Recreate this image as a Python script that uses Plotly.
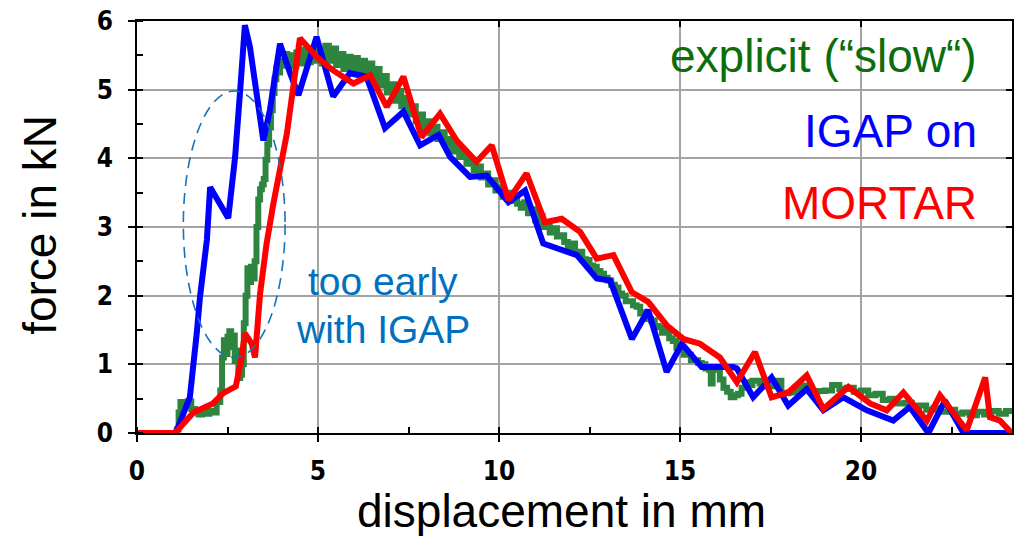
import plotly.graph_objects as go

# ---- force-displacement curves (displacement in mm, force in kN) ----
explicit_x = [0, 1.05, 1.1, 1.15, 1.2, 1.3, 1.4, 1.5, 1.6, 1.7, 1.8, 1.9, 2.0, 2.1, 2.2, 2.3,
              2.35, 2.4, 2.45, 2.5, 2.55, 2.6, 2.65, 2.7, 2.75, 2.8, 2.85, 2.9, 2.95, 3.0,
              3.05, 3.1, 3.15, 3.2, 3.25, 3.3, 3.35, 3.4, 3.45, 3.5, 3.55, 3.6, 3.65, 3.7,
              3.75, 3.8, 3.85, 3.9, 3.95, 4.0, 4.1, 4.15, 4.2, 4.3, 4.4, 4.5, 4.6, 4.7, 4.8,
              4.9, 5.0, 5.1, 5.2, 5.3, 5.4, 5.5, 5.6, 5.7, 5.8, 5.9, 6.0, 6.1, 6.2, 6.3, 6.4,
              6.5, 6.6, 6.7, 6.8, 6.9, 7.0, 7.1, 7.2, 7.3, 7.4, 7.5, 7.6, 7.7, 7.8, 7.9, 8.0,
              8.1, 8.2, 8.3, 8.4, 8.5, 8.6, 8.7, 8.8, 8.9, 9.0, 9.1, 9.2, 9.3, 9.4, 9.5, 9.6,
              9.7, 9.8, 9.9, 10.0, 10.1, 10.2, 10.3, 10.4, 10.5, 10.6, 10.7, 10.8, 10.9, 11.0,
              11.1, 11.2, 11.3, 11.4, 11.5, 11.6, 11.7, 11.8, 11.9, 12.0, 12.1, 12.2, 12.3,
              12.4, 12.5, 12.6, 12.7, 12.8, 12.9, 13.0, 13.1, 13.2, 13.3, 13.4, 13.5, 13.6,
              13.7, 13.8, 13.9, 14.0, 14.1, 14.2, 14.3, 14.4, 14.5, 14.6, 14.7, 14.8, 14.9,
              15.0, 15.1, 15.2, 15.3, 15.4, 15.5, 15.6, 15.7, 15.8, 15.85, 15.9, 16.0, 16.1,
              16.2, 16.3, 16.4, 16.5, 16.6, 16.7, 16.8, 16.9, 17.0, 17.2, 17.4, 17.6, 17.8,
              18.0, 18.2, 18.4, 18.6, 18.8, 19.0, 19.2, 19.4, 19.6, 19.8, 20.0, 20.2, 20.4,
              20.6, 20.8, 21.0, 21.2, 21.4, 21.6, 21.8, 22.0, 22.2, 22.4, 22.6, 22.8, 23.0,
              23.2, 23.4, 23.6, 23.8, 24.0, 24.2]
explicit_y = [0, 0, 0.05, 0.30, 0.45, 0.42, 0.46, 0.35, 0.30, 0.27, 0.30, 0.28, 0.32, 0.30, 0.45, 0.62,
              1.10, 1.35, 1.15, 1.40, 1.48, 1.25, 1.42, 1.05, 1.20, 0.80, 0.85, 1.00, 1.60, 2.00,
              2.40, 2.20, 2.42, 2.25, 2.50, 3.00, 3.40, 3.55, 3.62, 3.70, 3.98, 4.20, 4.45, 4.70,
              4.95, 5.15, 5.32, 5.25, 5.42, 5.35, 5.52, 5.36, 5.50, 5.34, 5.54, 5.38, 5.58, 5.40, 5.60,
              5.42, 5.58, 5.38, 5.64, 5.42, 5.60, 5.36, 5.52, 5.30, 5.48, 5.28, 5.46, 5.22, 5.42, 5.20, 5.38,
              5.12, 5.30, 5.06, 5.20, 4.96, 5.08, 4.84, 4.98, 4.76, 4.88, 4.64, 4.76, 4.54, 4.64, 4.44, 4.54,
              4.36, 4.46, 4.28, 4.38, 4.20, 4.28, 4.10, 4.18, 4.02, 4.08, 3.92, 3.98, 3.82, 3.88, 3.72, 3.78,
              3.62, 3.68, 3.53, 3.58, 3.44, 3.50, 3.38, 3.44, 3.34, 3.28, 3.36, 3.20, 3.26, 3.10,
              3.16, 3.00, 3.06, 2.92, 2.98, 2.86, 2.88, 2.78, 2.70, 2.76, 2.62, 2.64, 2.53,
              2.52, 2.44, 2.42, 2.36, 2.32, 2.26, 2.22, 2.16, 2.12, 2.03, 2.00, 1.92, 1.92,
              1.86, 1.84, 1.74, 1.76, 1.66, 1.64, 1.56, 1.54, 1.46, 1.50, 1.38, 1.34, 1.24,
              1.22, 1.14, 1.14, 1.06, 1.06, 1.02, 1.00, 0.94, 0.92, 0.72, 0.92, 0.94, 0.78,
              0.66, 0.60, 0.52, 0.55, 0.57, 0.66, 0.74, 0.70, 0.76, 0.72, 0.68, 0.76, 0.58,
              0.59, 0.64, 0.69, 0.60, 0.61, 0.62, 0.70, 0.64, 0.66, 0.60, 0.62, 0.55, 0.57,
              0.48, 0.50, 0.43, 0.44, 0.36, 0.40, 0.34, 0.36, 0.31, 0.34, 0.28, 0.30, 0.26,
              0.31, 0.27, 0.32, 0.28, 0.32, 0.30]

igap_x = [0, 1.05, 1.10, 1.46, 1.65, 1.74, 1.93, 2.02, 2.52, 2.71, 2.85, 2.98, 3.12, 3.49, 3.67,
          3.95, 4.23, 4.46, 4.96, 5.42, 5.88, 6.34, 6.85, 7.36, 7.82, 8.33, 8.65, 9.20, 9.66,
          10.26, 10.72, 11.22, 12.15, 12.70, 13.07, 13.67, 14.12, 14.63, 15.05, 15.60, 16.47,
          16.57, 17.02, 17.53, 17.99, 18.50, 18.96, 19.51, 20.16, 20.89, 21.35, 21.86, 22.32,
          22.83, 24.20]
igap_y = [0, 0, 0.04, 0.52, 1.45, 1.98, 2.81, 3.58, 3.13, 4.02, 4.99, 5.94, 5.62, 4.26, 4.70,
          5.67, 5.24, 4.92, 5.77, 4.90, 5.24, 5.19, 4.44, 4.68, 4.19, 4.34, 4.02, 3.73, 3.75,
          3.36, 3.53, 2.76, 2.59, 2.25, 2.22, 1.37, 1.79, 0.89, 1.30, 0.96, 0.96,
          0.94, 0.52, 0.81, 0.40, 0.64, 0.33, 0.52, 0.33, 0.18, 0.38, 0.0, 0.47,
          0.0, 0.0]

mortar_x = [0, 1.05, 1.56, 2.10, 2.38, 2.73, 2.89, 2.98, 3.17, 3.26, 3.40, 3.58, 3.77, 4.14,
            4.50, 4.96, 5.42, 5.98, 6.44, 6.90, 7.36, 7.86, 8.37, 8.83, 9.38, 9.80, 10.26,
            10.76, 11.27, 11.73, 12.24, 12.70, 13.16, 13.67, 14.12, 14.63, 15.09, 15.55,
            16.10, 16.57, 17.07, 17.53, 17.99, 18.50, 18.96, 19.65, 20.25, 20.71, 21.17,
            21.82, 22.18, 22.92, 23.43, 23.56, 23.84, 24.16]
mortar_y = [0, 0, 0.30, 0.43, 0.58, 0.68, 1.10, 1.45, 1.30, 1.10, 2.03, 2.76, 3.35, 4.36,
            5.75, 5.48, 5.28, 5.09, 5.21, 4.75, 5.19, 4.31, 4.65, 4.26, 3.95, 4.19, 3.39,
            3.78, 3.07, 3.12, 2.93, 2.54, 2.59, 2.05, 1.91, 1.57, 1.37, 1.30,
            1.10, 0.74, 1.18, 0.52, 0.59, 0.84, 0.35, 0.67, 0.43, 0.33, 0.59,
            0.18, 0.55, 0.04, 0.81, 0.23, 0.18, 0.0]

x_ticks = [0, 5, 10, 15, 20]
y_ticks = [0, 1, 2, 3, 4, 5, 6]
x_range = [0, 24.17]
y_range = [0, 6]

GREEN = "#2e8540"
TEXT_FONT = "Liberation Sans, Arial, sans-serif"
TICK_FONT = dict(family="DejaVu Sans Condensed, DejaVu Sans, sans-serif", size=26,
                 color="black", weight="bold")

fig = go.Figure()
fig.add_trace(go.Scatter(x=explicit_x, y=explicit_y, mode="lines", name="explicit",
                         line=dict(color=GREEN, width=6, shape="hv")))
fig.add_trace(go.Scatter(x=igap_x, y=igap_y, mode="lines", name="IGAP on",
                         line=dict(color="#0000ff", width=6)))
fig.add_trace(go.Scatter(x=mortar_x, y=mortar_y, mode="lines", name="MORTAR",
                         line=dict(color="#ff0000", width=6)))

# empty traces that bring the frame / inner-tick axes to life
for xa, ya in [("x2", "y"), ("x3", "y"), ("x", "y2"), ("x", "y3")]:
    fig.add_trace(go.Scatter(x=[None], y=[None], xaxis=xa, yaxis=ya, showlegend=False,
                             hoverinfo="skip", mode="lines"))

# dashed ellipse marking the early IGAP rise
fig.add_shape(type="circle", xref="x", yref="y", x0=1.28, x1=4.09, y0=1.10, y1=4.98,
              line=dict(color="#1a73b8", width=1.6, dash="11px,7px"))

ann = []
ann.append(dict(text="explicit (\u201cslow\u201c)", x=0.962, y=0.915, font=dict(color="#0b6e0b", size=46)))
ann.append(dict(text="IGAP on", x=0.962, y=0.733, font=dict(color="#0000ff", size=46)))
ann.append(dict(text="MORTAR", x=0.962, y=0.558, font=dict(color="#ff0000", size=46)))
for a in ann:
    a.update(xref="paper", yref="paper", xanchor="right", yanchor="middle", showarrow=False)
    a["font"]["family"] = TEXT_FONT
    fig.add_annotation(**a)

for txt, yv in [("too early", 2.21), ("with IGAP", 1.51)]:
    fig.add_annotation(text=txt, x=6.8, y=yv, xref="x", yref="y", showarrow=False,
                       xanchor="center", yanchor="middle",
                       font=dict(family=TEXT_FONT, size=39, color="#0070c0"))

fig.add_annotation(text="displacement in mm", x=(561 - 137) / 875, y=-0.19, xref="paper",
                   yref="paper", showarrow=False, xanchor="center", yanchor="middle",
                   font=dict(family=TEXT_FONT, size=46, color="black"))
fig.add_annotation(text="force in kN", x=-0.111, y=0.505, xref="paper", yref="paper",
                   showarrow=False, textangle=-90, xanchor="center", yanchor="middle",
                   font=dict(family=TEXT_FONT, size=46, color="black"))

grid = dict(showgrid=True, gridcolor="#a3a3a3", gridwidth=1.5, zeroline=False)
fig.update_layout(
    width=1019, height=536,
    margin=dict(l=137, r=7, t=21, b=103),
    paper_bgcolor="white", plot_bgcolor="white",
    showlegend=False,
    xaxis=dict(range=x_range, tickvals=x_ticks, ticks="outside", ticklen=7, tickwidth=1.5,
               tickcolor="black", showline=True, linecolor="black", linewidth=1.5,
               tickfont=TICK_FONT, ticklabelstandoff=7,
               minor=dict(dtick=2.5, tick0=0, ticks="inside", ticklen=6, tickwidth=1.5,
                          tickcolor="black", showgrid=False),
               **grid),
    yaxis=dict(range=y_range, tickvals=y_ticks, ticks="outside", ticklen=7, tickwidth=1.5,
               tickcolor="black", showline=True, linecolor="black", linewidth=1.5,
               tickfont=TICK_FONT, ticklabelstandoff=10,
               minor=dict(dtick=0.5, tick0=0, ticks="inside", ticklen=6, tickwidth=1.5,
                          tickcolor="black", showgrid=False),
               **grid),
    xaxis2=dict(range=x_range, overlaying="x", side="top", anchor="y", tickvals=x_ticks,
                ticks="inside", ticklen=6, tickwidth=1.5, tickcolor="black",
                showticklabels=False, showgrid=False, zeroline=False,
                showline=True, linecolor="black", linewidth=1.5),
    xaxis3=dict(range=x_range, overlaying="x", side="bottom", anchor="y", tickvals=x_ticks,
                ticks="inside", ticklen=6, tickwidth=1.5, tickcolor="black",
                showticklabels=False, showgrid=False, zeroline=False, showline=False),
    yaxis2=dict(range=y_range, overlaying="y", side="right", anchor="x", tickvals=y_ticks,
                ticks="inside", ticklen=6, tickwidth=1.5, tickcolor="black",
                showticklabels=False, showgrid=False, zeroline=False,
                showline=True, linecolor="black", linewidth=1.5),
    yaxis3=dict(range=y_range, overlaying="y", side="left", anchor="x", tickvals=y_ticks,
                ticks="inside", ticklen=6, tickwidth=1.5, tickcolor="black",
                showticklabels=False, showgrid=False, zeroline=False, showline=False),
)

fig.write_html("out.html")
